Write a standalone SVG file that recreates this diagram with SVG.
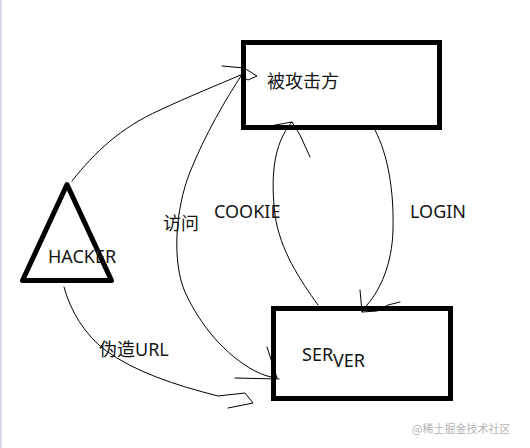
<svg xmlns="http://www.w3.org/2000/svg" width="530" height="448" viewBox="0 0 530 448">
<style>
.box{fill:none;stroke:#000;stroke-width:5}
.t{font-family:"Noto Sans","Noto Sans CJK SC",sans-serif;font-size:18px;fill:#151515}
.c{fill:none;stroke:#000;stroke-width:1;stroke-linejoin:round;stroke-linecap:round}
.wm{font-family:"Noto Sans CJK SC",sans-serif;font-size:11px;fill:#b4b4b4}
</style>
<rect width="530" height="448" fill="#fff"/>
<rect x="0" y="0" width="2" height="448" fill="#d9d9ee"/>
<g id="attacked">
<rect class="box" x="243.5" y="42.5" width="196" height="85"/>
<text class="t" x="267" y="88">被攻击方</text>
</g>
<g id="hacker">
<polygon class="box" points="67,184.5 22.5,280.5 111.5,280.5" stroke-linejoin="round"/>
<text class="t" x="48" y="263">HACKER</text>
</g>
<g id="server">
<rect class="box" x="273.5" y="308.5" width="177" height="90"/>
<text class="t" x="302" y="361">SER</text>
<text class="t" x="333" y="367">VER</text>
</g>
<g id="connectors">
<path class="c" d="M72,181 C95,152 120,128 160,110 C190,96 215,86 243,74"/>
<path class="c" d="M222,66 L244,68 L257,76 L248,80 L242,77"/>
<path class="c" d="M243,73 C225,100 205,135 190,172 C175,210 172,262 185,292 C200,325 225,355 255,371 C263,375 269,377 277,378"/>
<path class="c" d="M267,347 L277,378 M235,378 L279,379"/>
<path class="c" d="M64,287 C70,310 85,335 105,350 C135,372 175,385 218,396 L245,393 L253,403 L228,408"/>
<path class="c" d="M318,305 C300,280 280,250 275,215 C271,180 272,145 292,122"/>
<path class="c" d="M270,126 L292,122 L300,135 L310,157"/>
<path class="c" d="M375,130 C388,155 394,190 393,230 C392,265 380,290 367,305 L362,312"/>
<path class="c" d="M360,290 L362,312 L377,311 L388,305 L400,302"/>
<text class="t" x="214" y="218">COOKIE</text>
<text class="t" x="410" y="218">LOGIN</text>
<text class="t" x="163" y="230">访问</text>
<text class="t" x="99" y="356">伪造URL</text>
</g>
<text class="wm" x="412" y="433">@稀土掘金技术社区</text>
</svg>
